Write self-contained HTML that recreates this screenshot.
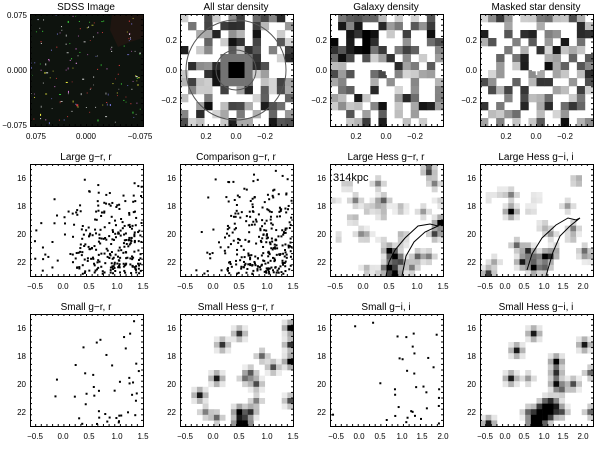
<!DOCTYPE html>
<html><head><meta charset="utf-8">
<style>
html,body{margin:0;padding:0;background:#fff;width:600px;height:450px;overflow:hidden}
svg text{font-family:"Liberation Sans",sans-serif;fill:#000}
.t{font-size:10px;text-anchor:middle}
.k{font-size:8px}
.yl{text-anchor:end}
.xl{text-anchor:middle}
</style></head><body>
<svg id="s" width="600" height="450" viewBox="0 0 600 450" xmlns="http://www.w3.org/2000/svg">
<g id="content"></g>
<g id="frames" fill="none" stroke="#000" stroke-width="1"></g>
<text class="t" x="86" y="10">SDSS Image</text>
<text class="t" x="236" y="10">All star density</text>
<text class="t" x="386" y="10">Galaxy density</text>
<text class="t" x="536" y="10">Masked star density</text>
<text class="t" x="86" y="160">Large g−r, r</text>
<text class="t" x="236" y="160">Comparison g−r, r</text>
<text class="t" x="386" y="160">Large Hess g−r, r</text>
<text class="t" x="536" y="160">Large Hess g−i, i</text>
<text class="t" x="86" y="310">Small g−r, r</text>
<text class="t" x="236" y="310">Small Hess g−r, r</text>
<text class="t" x="386" y="310">Small g−i, i</text>
<text class="t" x="536" y="310">Small Hess g−i, i</text>
<g class="k">
<text class="yl" x="27" y="18">0.075</text><text class="yl" x="27" y="73">0.000</text><text class="yl" x="27" y="128">−0.075</text>
<text class="xl" x="36" y="139">0.075</text><text class="xl" x="86" y="139">0.000</text><text class="xl" x="140" y="139">−0.075</text>
<text class="yl" x="177" y="43">0.2</text><text class="yl" x="177" y="73">0.0</text><text class="yl" x="177" y="103">−0.2</text>
<text class="xl" x="206" y="139">0.2</text><text class="xl" x="236" y="139">0.0</text><text class="xl" x="265" y="139">−0.2</text>
<text class="yl" x="327" y="43">0.2</text><text class="yl" x="327" y="73">0.0</text><text class="yl" x="327" y="103">−0.2</text>
<text class="xl" x="356" y="139">0.2</text><text class="xl" x="386" y="139">0.0</text><text class="xl" x="415" y="139">−0.2</text>
<text class="yl" x="477" y="43">0.2</text><text class="yl" x="477" y="73">0.0</text><text class="yl" x="477" y="103">−0.2</text>
<text class="xl" x="506" y="139">0.2</text><text class="xl" x="536" y="139">0.0</text><text class="xl" x="565" y="139">−0.2</text>
</g>
<g class="k yl">
<text class="yl" x="26" y="181">16</text><text class="yl" x="26" y="209">18</text><text class="yl" x="26" y="237">20</text><text class="yl" x="26" y="265">22</text>
<text class="yl" x="176" y="181">16</text><text class="yl" x="176" y="209">18</text><text class="yl" x="176" y="237">20</text><text class="yl" x="176" y="265">22</text>
<text class="yl" x="326" y="181">16</text><text class="yl" x="326" y="209">18</text><text class="yl" x="326" y="237">20</text><text class="yl" x="326" y="265">22</text>
<text class="yl" x="476" y="181">16</text><text class="yl" x="476" y="209">18</text><text class="yl" x="476" y="237">20</text><text class="yl" x="476" y="265">22</text>
<text class="yl" x="26" y="331">16</text><text class="yl" x="26" y="359">18</text><text class="yl" x="26" y="387">20</text><text class="yl" x="26" y="415">22</text>
<text class="yl" x="176" y="331">16</text><text class="yl" x="176" y="359">18</text><text class="yl" x="176" y="387">20</text><text class="yl" x="176" y="415">22</text>
<text class="yl" x="326" y="331">16</text><text class="yl" x="326" y="359">18</text><text class="yl" x="326" y="387">20</text><text class="yl" x="326" y="415">22</text>
<text class="yl" x="476" y="331">16</text><text class="yl" x="476" y="359">18</text><text class="yl" x="476" y="387">20</text><text class="yl" x="476" y="415">22</text>
</g>
<g class="k">
<text class="xl" x="35" y="289">−0.5</text><text class="xl" x="63" y="289">0.0</text><text class="xl" x="89" y="289">0.5</text><text class="xl" x="117" y="289">1.0</text><text class="xl" x="143" y="289">1.5</text>
<text class="xl" x="185" y="289">−0.5</text><text class="xl" x="213" y="289">0.0</text><text class="xl" x="239" y="289">0.5</text><text class="xl" x="267" y="289">1.0</text><text class="xl" x="293" y="289">1.5</text>
<text class="xl" x="335" y="289">−0.5</text><text class="xl" x="363" y="289">0.0</text><text class="xl" x="389" y="289">0.5</text><text class="xl" x="417" y="289">1.0</text><text class="xl" x="443" y="289">1.5</text>
<text class="xl" x="485" y="289">−0.5</text><text class="xl" x="505" y="289">0.0</text><text class="xl" x="524" y="289">0.5</text><text class="xl" x="544" y="289">1.0</text><text class="xl" x="563" y="289">1.5</text><text class="xl" x="583" y="289">2.0</text>
<text class="xl" x="35" y="439">−0.5</text><text class="xl" x="63" y="439">0.0</text><text class="xl" x="89" y="439">0.5</text><text class="xl" x="117" y="439">1.0</text><text class="xl" x="143" y="439">1.5</text>
<text class="xl" x="185" y="439">−0.5</text><text class="xl" x="213" y="439">0.0</text><text class="xl" x="239" y="439">0.5</text><text class="xl" x="267" y="439">1.0</text><text class="xl" x="293" y="439">1.5</text>
<text class="xl" x="336" y="439">−0.5</text><text class="xl" x="359" y="439">0.0</text><text class="xl" x="380" y="439">0.5</text><text class="xl" x="402" y="439">1.0</text><text class="xl" x="422" y="439">1.5</text><text class="xl" x="443" y="439">2.0</text>
<text class="xl" x="485" y="439">−0.5</text><text class="xl" x="505" y="439">0.0</text><text class="xl" x="524" y="439">0.5</text><text class="xl" x="544" y="439">1.0</text><text class="xl" x="563" y="439">1.5</text><text class="xl" x="583" y="439">2.0</text>
</g>
<text x="333" y="181" style="font-size:11px">314kpc</text>
</svg>
<script>
(function(){
var NS="http://www.w3.org/2000/svg",C=document.getElementById("content"),F=document.getElementById("frames");
var seed=12345;function R(){seed=(seed*16807)%2147483647;return (seed-1)/2147483646;}
function el(t,a,p){var e=document.createElementNS(NS,t);for(var k in a)e.setAttribute(k,a[k]);(p||C).appendChild(e);return e;}
var W=113,H=112,cols=[30,180,330,480],rows=[14,164,314];
function frame(x,y){el("rect",{x:x+.5,y:y+.5,width:W,height:H},F);
 for(var i=1;i<20;i++){var xx=x+i*W/20,yy=y+i*H/20;el("line",{x1:xx,y1:y,x2:xx,y2:y+2},F);el("line",{x1:xx,y1:y+H,x2:xx,y2:y+H-2},F);el("line",{x1:x,y1:yy,x2:x+2,y2:yy},F);el("line",{x1:x+W,y1:yy,x2:x+W-2,y2:yy},F);}}
function g(v){v=Math.max(0,Math.min(1,v));var c=Math.round(255*(1-v));return "rgb("+c+","+c+","+c+")";}
el("rect",{x:30,y:14,width:W,height:H,fill:"#0e130e"});
el("polygon",{points:"112,14 143,14 143,38 130,42 118,47 110,30",fill:"#1f1510"});
var cl=["#fff","#ff4","#f44","#88f","#4f4","#ccc","#f8f"];
for(var i=0;i<160;i++){el("rect",{x:30+R()*111,y:14+R()*110,width:R()<.15?2:1,height:R()<.15?2:1,fill:cl[Math.floor(R()*7)],opacity:.5+R()*.5});}
function grid(x0,n,fn){var c=W/n;for(var i=0;i<n;i++)for(var j=0;j<n;j++){var v=fn(i,j);if(v>0.05)el("rect",{x:x0+i*c,y:14+j*H/n,width:c+.3,height:H/n+.3,fill:g(v)});}}
function dv(){var r=R();return r<.45?0:Math.pow(r,2.2)*0.95;}
grid(180,14,function(i,j){var d=Math.hypot(i-6.5,j-6.5);if(d<1.2)return 1;if(d<2.3)return .55;return dv();});
grid(330,14,function(i,j){var b=(j<5&&i<6)?.25:0;var v=dv();return v?Math.min(1,v+b):0;});
grid(480,14,function(i,j){return dv();});
el("circle",{cx:236,cy:70,r:50,fill:"none",stroke:"#555"});
el("circle",{cx:236,cy:70,r:20,fill:"none",stroke:"#555"});
[386,536].forEach(function(x){el("path",{d:"M"+(x-4)+" 70.5H"+(x+4)+"M"+(x+.5)+" 66V75",stroke:"#fff","stroke-width":1.5});});
function scat(x0,y0,n,pw){for(var i=0;i<n;i++){var yy=Math.pow(R(),pw);var xx=R()<.15?R():0.33+0.67*Math.pow(R(),.7);var px=x0+2+xx*(W-4),py=y0+3+yy*(H-6);el("rect",{x:px,y:py,width:2,height:2,fill:"#000"});}}
scat(30,164,270,0.45);scat(180,164,290,0.5);scat(30,314,45,0.6);scat(330,314,35,0.6);
function hess(x0,y0,blobs){var n=20,c=W/n,ch=H/n,a=[];for(var i=0;i<n;i++){a[i]=[];for(var j=0;j<n;j++)a[i][j]=0;}
 blobs.forEach(function(b){for(var i=0;i<n;i++)for(var j=0;j<n;j++){var d=Math.hypot(i-b[0],j-b[1]);a[i][j]+=b[2]*Math.exp(-d*d/(b[3]||0.9));}});
 for(var i=0;i<n;i++)for(var j=0;j<n;j++){var v=a[i][j];if(v>0.07)el("rect",{x:x0+i*c,y:y0+j*ch,width:c+.3,height:ch+.3,fill:g(v)});}}
function rb(n,x1,x2,y1,y2,s){var o=[];for(var k=0;k<n;k++)o.push([x1+R()*(x2-x1),y1+R()*(y2-y1),s*(.4+R()*.6)]);return o;}
hess(330,164,[[17,0,.4],[18,3,.5],[16,8,.4],[19,10,1],[18,12,.5],[5,12,.4],[15,16,.6],[17,16,.5],[10,15,.9],[11,16,1],[10,18,1],[11,19,.9],[12,17,.6],[14,18,.5],[17,1,.6],[4,6,.5],[9,6,.6],[8,3,.5]].concat(rb(18,0,20,2,20,.35)));
hess(480,164,[[5,5,.5],[5,8,1],[6,14,.6],[8,15,.8],[11,18,.6],[9,18,1],[11,16,.8],[12,16,.5],[7,17,.9],[16,11,.5],[15,7,.4],[18,15,.5],[1,19,.5],[2,17,.35],[12,12,.4]].concat(rb(15,0,20,2,20,.3)));
hess(180,314,[[10,3,.8],[7,5,.8],[3,14,.9],[6,11,.9],[19,2,1],[19,5,.8],[19,8,1],[16,9,.7],[12,10,.6],[13,12,.7],[11,11,.5],[13,15,.5],[10,17,1.1],[11,19,1.3],[12,17,.8],[10,19,1.2],[6,18,.6],[4,17,.5],[19,15,.7],[14,7,.6]]);
hess(480,314,[[9,3,.9],[6,6,.9],[18,5,.9],[5,11,.9],[8,11,.4],[19,10,.6],[13,8,1],[13,10,.8],[13,12,.9],[14,13,.5],[16,12,.7],[11,17,1.2,2],[12,16,1.2,2],[10,18,1.2,2],[9,19,1],[1,19,.9],[19,17,.6],[14,17,.6],[8,17,.5]]);
el("polyline",{points:"386,276 389,262 395,250 405,238 418,226 430,224 438,226 425,232 414,242 406,256 402,276",fill:"none",stroke:"#000"});
el("polyline",{points:"527,270 532,254 542,238 556,225 568,218 576,220 580,218 570,226 560,236 553,252 546,276",fill:"none",stroke:"#000"});
cols.forEach(function(x){rows.forEach(function(y){frame(x,y);});});
})();
</script>
</body></html>
